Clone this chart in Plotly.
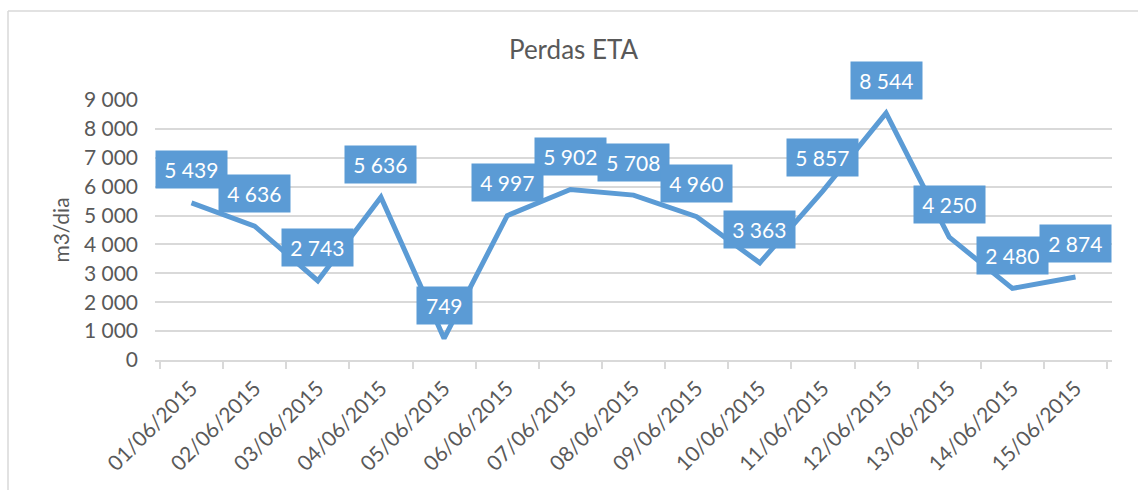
import plotly.graph_objects as go

# Daily ETA losses, June 2015
dates = ["01/06/2015", "02/06/2015", "03/06/2015", "04/06/2015", "05/06/2015",
         "06/06/2015", "07/06/2015", "08/06/2015", "09/06/2015", "10/06/2015",
         "11/06/2015", "12/06/2015", "13/06/2015", "14/06/2015", "15/06/2015"]
perdas = [5439, 4636, 2743, 5636, 749, 4997, 5902, 5708, 4960, 3363,
          5857, 8544, 4250, 2480, 2874]
y_ticks = [0, 1000, 2000, 3000, 4000, 5000, 6000, 7000, 8000, 9000]

BLUE = "#5B9BD5"
GREY_TXT = "#595959"
GRID = "#D9D9D9"
FONT = "Lato"


def fmt(v):
    return f"{v:,}".replace(",", " ")


def text_width(s, size=21):
    # rough Lato advance widths
    w = 0.0
    for ch in s:
        w += 0.19 * size if ch == " " else 0.58 * size
    return w


fig = go.Figure()
fig.add_trace(go.Scatter(
    x=dates, y=perdas, mode="lines",
    line=dict(color=BLUE, width=5),
    hoverinfo="skip", showlegend=False,
))

# value labels in filled boxes above each point
for d, v in zip(dates, perdas):
    t = fmt(v)
    fig.add_annotation(
        x=d, y=v, xref="x", yref="y", text=t, showarrow=False,
        yshift=33, yanchor="middle", xanchor="center",
        font=dict(family=FONT, size=21, color="white"),
        bgcolor=BLUE, borderpad=5,
        width=text_width(t) + 8, height=27,
    )

# chart frame: only the left and top edges are on the page
left, top = -147 / 957, 349 / 260
fig.add_shape(type="line", xref="paper", yref="paper",
              x0=left, x1=left, y0=-1.5, y1=top,
              line=dict(color=GRID, width=1.5), layer="below")
fig.add_shape(type="line", xref="paper", yref="paper",
              x0=left, x1=1.6, y0=top, y1=top,
              line=dict(color=GRID, width=1.5), layer="below")

fig.update_layout(
    width=1138, height=490,
    margin=dict(l=155, r=26, t=100, b=130),
    paper_bgcolor="white", plot_bgcolor="white",
    separators=", ",
    font=dict(family=FONT, color=GREY_TXT),
    title=dict(
        text="Perdas ETA", xref="container", yref="container",
        x=0.504, y=1 - 50 / 490, xanchor="center", yanchor="middle",
        font=dict(family=FONT, size=26, color=GREY_TXT),
    ),
    xaxis=dict(
        type="category", tickangle=-45, tickson="boundaries",
        ticks="outside", ticklen=7, tickcolor=GRID, tickwidth=1.5,
        showline=True, linecolor=GRID, linewidth=1.5,
        ticklabelstandoff=6,
        showgrid=False, tickfont=dict(family=FONT, size=21, color=GREY_TXT),
        fixedrange=True,
    ),
    yaxis=dict(
        range=[0, 9000], tickvals=y_ticks, tickformat=",d",
        showgrid=True, gridcolor=GRID, gridwidth=1.5,
        zeroline=False, showline=False,
        ticklabelstandoff=16,
        tickfont=dict(family=FONT, size=21, color=GREY_TXT),
        title=dict(text="m3/dia", standoff=8,
                   font=dict(family=FONT, size=21, color=GREY_TXT)),
        fixedrange=True,
    ),
)

fig.write_html("out.html")
